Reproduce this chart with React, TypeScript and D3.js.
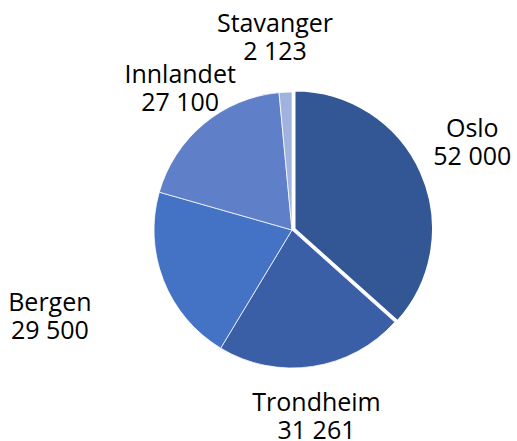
import React from "react";
import * as d3 from "d3";

const categories = ["Oslo", "Trondheim", "Bergen", "Innlandet", "Stavanger"];
const values = [52000, 31261, 29500, 27100, 2123];
const valueLabels = ["52 000", "31 261", "29 500", "27 100", "2 123"];

// layout / style config (not data)
const colors = ["#335795", "#3A5FA7", "#4472C4", "#5F80C8", "#A0B2DE"];
const labelRadius = [197, 197, 260, 173.5, 185];
const labelAngleNudge = [0.0056, 0.024, 0.002, -0.007, -0.045];
const explode = [3, 0, 0, 0, 0];

const W = 517;
const H = 441;
const cx = 292;
const cy = 230;
const R = 138;

export default function App() {
  const pie = d3
    .pie<number>()
    .sort(null)
    .value((d) => d)
    .startAngle(0)
    .endAngle(2 * Math.PI);
  const arcs = pie(values);
  const arcGen = d3.arc<d3.PieArcDatum<number>>().innerRadius(0).outerRadius(R);
  const fontSize = 25;
  const lineH = 28;

  return (
    <svg
      width={W}
      height={H}
      style={{ position: "absolute", left: 0, top: 0 }}
      fontFamily="'Open Sans', sans-serif"
    >
      <rect width={W} height={H} fill="#fff" />
      <g transform={`translate(${cx},${cy})`}>
        {arcs.map((a, i) => {
          const mid = (a.startAngle + a.endAngle) / 2;
          const ex = Math.sin(mid) * explode[i];
          const ey = -Math.cos(mid) * explode[i];
          return (
            <path
              key={categories[i]}
              d={arcGen(a) || ""}
              transform={`translate(${ex},${ey})`}
              fill={colors[i]}
              stroke="#fff"
              strokeWidth={explode[i] ? 1.5 : 0.75}
              strokeLinejoin="round"
            />
          );
        })}
        {arcs.map((a, i) => {
          const mid = (a.startAngle + a.endAngle) / 2 + labelAngleNudge[i];
          const x = Math.sin(mid) * labelRadius[i];
          const y = -Math.cos(mid) * labelRadius[i];
          return (
            <text
              key={"l" + categories[i]}
              x={x}
              y={y}
              textAnchor="middle"
              fontSize={fontSize}
              fill="#000"
            >
              <tspan x={x} y={y - lineH / 2}>
                {categories[i]}
              </tspan>
              <tspan x={x} y={y + lineH / 2}>
                {valueLabels[i]}
              </tspan>
            </text>
          );
        })}
      </g>
    </svg>
  );
}
